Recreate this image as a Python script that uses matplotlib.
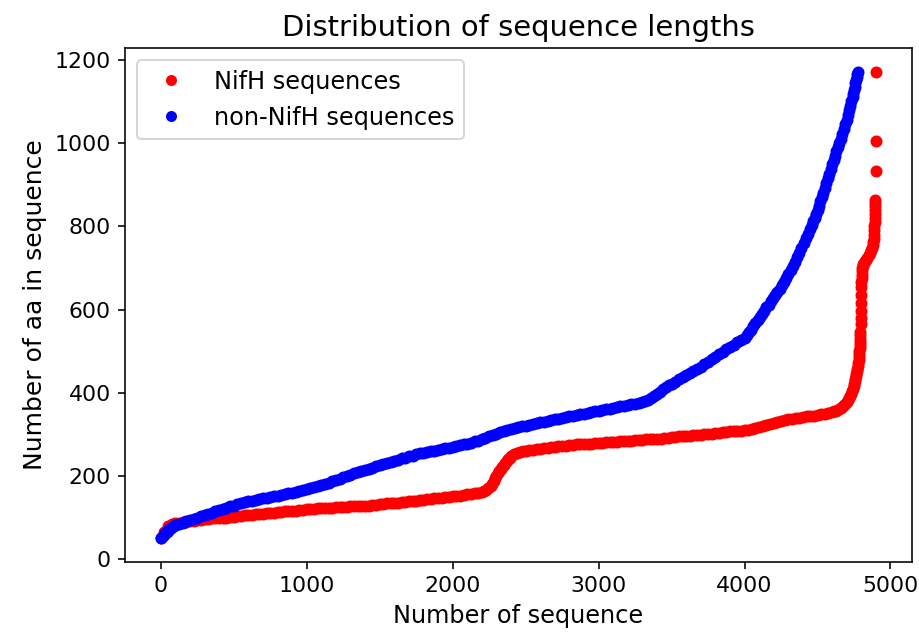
import matplotlib
matplotlib.use('Agg')
import matplotlib.pyplot as plt

# sorted sequence lengths (rank -> length)
nifh_rank = [0, 25, 50, 75, 100, 125, 150, 175, 200, 225, 250, 275, 300, 325, 350, 375, 400, 425,
             450, 475, 500, 525, 550, 575, 600, 625, 650, 675, 700, 725, 750, 775, 800, 825, 850,
             875, 900, 925, 950, 975, 1000, 1025, 1050, 1075, 1100, 1125, 1150, 1175, 1200, 1225,
             1250, 1275, 1300, 1325, 1350, 1375, 1400, 1425, 1450, 1475, 1500, 1525, 1550, 1575,
             1600, 1625, 1650, 1675, 1700, 1725, 1750, 1775, 1800, 1825, 1850, 1875, 1900, 1925,
             1950, 1975, 2000, 2025, 2050, 2075, 2100, 2125, 2150, 2175, 2200, 2215, 2230, 2245,
             2260, 2270, 2280, 2290, 2300, 2310, 2320, 2330, 2340, 2350, 2360, 2370, 2380, 2390,
             2400, 2420, 2440, 2460, 2480, 2500, 2525, 2550, 2575, 2600, 2625, 2650, 2675, 2700,
             2725, 2750, 2775, 2800, 2825, 2850, 2875, 2900, 2925, 2950, 2975, 3000, 3025, 3050,
             3075, 3100, 3125, 3150, 3175, 3200, 3225, 3250, 3275, 3300, 3325, 3350, 3375, 3400,
             3425, 3450, 3475, 3500, 3525, 3550, 3575, 3600, 3625, 3650, 3675, 3700, 3725, 3750,
             3775, 3800, 3825, 3850, 3875, 3900, 3925, 3950, 3975, 4000, 4025, 4050, 4075, 4100,
             4125, 4150, 4175, 4200, 4225, 4250, 4275, 4300, 4325, 4350, 4375, 4400, 4425, 4450,
             4475, 4500, 4525, 4550, 4575, 4600, 4615, 4630, 4645, 4660, 4670, 4680, 4690, 4700,
             4708, 4715, 4722, 4730, 4736, 4742, 4747, 4752, 4756, 4760, 4763, 4766, 4769, 4772,
             4775, 4778, 4781, 4783, 4785, 4787, 4789, 4790, 4791, 4792, 4793, 4794, 4795, 4796,
             4797, 4798, 4799, 4800, 4801, 4802, 4803, 4805, 4807, 4810, 4815, 4820, 4828, 4835,
             4842, 4850, 4857, 4865, 4872, 4878, 4881, 4884, 4886, 4888, 4890, 4891, 4892, 4893,
             4894, 4895, 4896, 4897, 4898, 4899, 4900]
nifh_len = [50, 65, 80, 85, 87, 88, 89, 90, 91, 92, 93, 95, 97, 97, 98, 98, 99, 99,
            100, 101, 102, 103, 104, 105, 106, 107, 108, 108, 109, 110, 111, 112, 113, 114, 115,
            116, 117, 117, 118, 119, 120, 120, 121, 122, 123, 123, 124, 124, 125, 125,
            126, 126, 127, 127, 128, 128, 129, 129, 130, 131, 132, 133, 134, 134,
            135, 136, 137, 138, 139, 140, 141, 142, 143, 144, 145, 146, 147, 148,
            149, 150, 151, 152, 153, 154, 156, 157, 159, 160, 162, 164, 166, 170,
            175, 181, 188, 194, 200, 206, 212, 217, 222, 227, 232, 236, 240, 244,
            247, 252, 255, 257, 259, 260, 262, 263, 265, 266, 267, 268, 269, 270,
            271, 272, 273, 274, 275, 276, 276, 277, 277, 278, 279, 280, 280, 281,
            281, 282, 282, 283, 284, 285, 285, 286, 286, 287, 288, 289, 289, 290,
            290, 291, 292, 293, 294, 295, 296, 297, 297, 298, 298, 299, 300, 301,
            302, 303, 304, 305, 306, 307, 307, 308, 309, 310, 311, 313, 315, 318,
            320, 323, 325, 328, 330, 332, 334, 336, 337, 339, 340, 342, 343, 344,
            345, 347, 348, 350, 351, 353, 355, 357, 360, 363, 366, 370, 374, 378,
            383, 388, 393, 398, 404, 410, 416, 422, 428, 434, 440, 446, 452, 458,
            465, 472, 479, 486, 493, 500, 507, 515, 522, 530, 538, 547, 565, 580,
            597, 615, 635, 655, 665, 675, 684, 692, 699, 705, 709, 712, 716, 720,
            725, 730, 736, 742, 748, 755, 762, 770, 780, 790, 800, 810, 820, 830,
            840, 850, 857, 864, 932, 1006, 1172]

other_rank = [0, 10, 20, 30, 40, 50, 60, 70, 80, 90, 100, 125, 150, 175, 200, 225, 250, 275, 300,
              325, 350, 375, 400, 425, 450, 475, 500, 525, 550, 575, 600, 625, 650, 675, 700, 725,
              750, 775, 800, 825, 850, 875, 900, 925, 950, 975, 1000, 1025, 1050, 1075, 1100,
              1125, 1150, 1175, 1200, 1225, 1250, 1275, 1300, 1325, 1350, 1375, 1400, 1425, 1450,
              1475, 1500, 1525, 1550, 1575, 1600, 1625, 1650, 1675, 1700, 1725, 1750, 1775, 1800,
              1825, 1850, 1875, 1900, 1925, 1950, 1975, 2000, 2025, 2050, 2075, 2100, 2125, 2150,
              2175, 2200, 2225, 2250, 2275, 2300, 2325, 2350, 2375, 2400, 2425, 2450, 2475, 2500,
              2525, 2550, 2575, 2600, 2625, 2650, 2675, 2700, 2725, 2750, 2775, 2800, 2825, 2850,
              2875, 2900, 2925, 2950, 2975, 3000, 3025, 3050, 3075, 3100, 3125, 3150, 3175, 3200,
              3225, 3250, 3275, 3300, 3320, 3340, 3360, 3380, 3400, 3420, 3440, 3460, 3480, 3500,
              3525, 3550, 3575, 3600, 3625, 3650, 3675, 3700, 3725, 3750, 3775, 3800, 3825, 3850,
              3875, 3900, 3925, 3950, 3975, 4000, 4015, 4030, 4045, 4060, 4075, 4090, 4105, 4120,
              4135, 4150, 4165, 4180, 4195, 4210, 4225, 4240, 4255, 4270, 4285, 4300, 4315, 4330,
              4345, 4360, 4375, 4390, 4405, 4420, 4435, 4450, 4460, 4470, 4480, 4490, 4500, 4510,
              4520, 4530, 4540, 4550, 4560, 4570, 4580, 4590, 4600, 4610, 4620, 4630, 4640, 4650,
              4660, 4670, 4680, 4690, 4700, 4710, 4718, 4725, 4732, 4740, 4745, 4750, 4755, 4760,
              4764, 4768, 4772, 4775]
other_len = [50, 54, 58, 62, 65, 68, 72, 75, 77, 80, 82, 85, 88, 91, 94, 97, 100, 103, 106,
             109, 112, 115, 118, 121, 124, 127, 129, 132, 134, 137, 139, 141, 143, 145, 146, 148,
             150, 152, 153, 155, 157, 159, 160, 162, 164, 166, 168, 170, 173, 175, 178,
             181, 184, 187, 190, 193, 197, 200, 203, 206, 209, 212, 215, 217, 220,
             223, 226, 228, 231, 234, 237, 239, 242, 244, 247, 249, 252, 254, 256,
             257, 259, 261, 263, 265, 267, 268, 270, 272, 274, 276, 278, 280, 283,
             285, 288, 291, 295, 298, 302, 305, 308, 311, 314, 316, 318, 320, 321,
             323, 325, 327, 329, 330, 332, 334, 336, 337, 339, 341, 343, 344, 346,
             348, 350, 351, 353, 355, 357, 359, 361, 362, 364, 365, 367, 369, 371,
             372, 374, 376, 378, 380, 382, 387, 392, 397, 403, 408, 413, 418, 422,
             427, 432, 437, 442, 447, 452, 457, 462, 468, 474, 480, 486, 492, 498,
             504, 510, 515, 521, 526, 532, 538, 545, 552, 560, 567, 575, 582, 590,
             597, 605, 612, 620, 627, 635, 642, 650, 658, 667, 676, 685, 695, 705,
             715, 726, 737, 748, 759, 771, 782, 794, 803, 812, 821, 830, 840, 850,
             860, 870, 881, 893, 904, 915, 926, 938, 949, 960, 970, 980, 990, 1000,
             1011, 1022, 1033, 1045, 1056, 1068, 1079, 1090, 1100, 1110, 1119, 1128, 1136, 1145,
             1152, 1160, 1165, 1170]

plt.rcParams['font.size'] = 12
plt.rcParams['xtick.labelsize'] = 11
plt.rcParams['ytick.labelsize'] = 11

fig = plt.figure(figsize=(919 / 144, 634 / 144), dpi=144)
ax = fig.add_axes([0.136, 0.114, 0.856, 0.81])

ax.plot(nifh_rank, nifh_len, 'r.', markersize=10, label='NifH sequences')
ax.plot(other_rank, other_len, 'b.', markersize=10, label='non-NifH sequences')

ax.set_title('Distribution of sequence lengths', fontsize=14.5)
ax.set_xlabel('Number of sequence')
ax.set_ylabel('Number of aa in sequence', fontsize=12.5)
ax.legend(loc='upper left', markerscale=0.9)

fig.savefig('out.png', dpi=144)
